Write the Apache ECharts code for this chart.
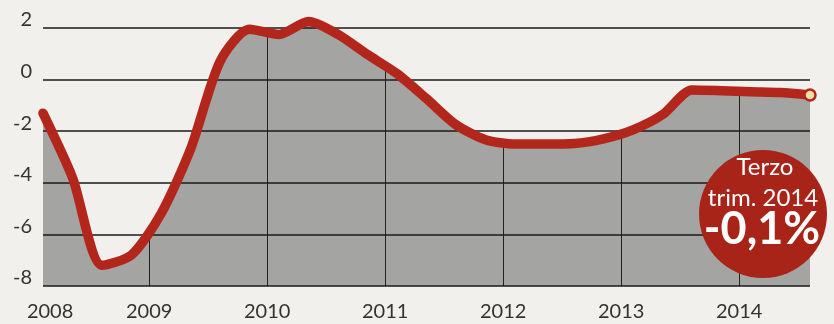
<!DOCTYPE html>
<html>
<head>
<meta charset="utf-8">
<script src="https://cdn.jsdelivr.net/npm/echarts@6/dist/echarts.min.js"></script>
<style>
    html, body { margin: 0; padding: 0; background: #f1f0ec; }
    #chart { width: 834px; height: 324px; }
</style>
</head>
<body>
<div id="chart"></div>
<script>
    // trimestri 2008 T1 .. 2014 T3
    const quarters = [
        '2008T1', '2008T2', '2008T3', '2008T4',
        '2009T1', '2009T2', '2009T3', '2009T4',
        '2010T1', '2010T2', '2010T3', '2010T4',
        '2011T1', '2011T2', '2011T3', '2011T4',
        '2012T1', '2012T2', '2012T3', '2012T4',
        '2013T1', '2013T2', '2013T3', '2013T4',
        '2014T1', '2014T2', '2014T3'
    ]
    const values = [
        -1.3, -3.8, -7.2, -6.8,
        -5.2, -2.7, 0.7, 1.95,
        1.75, 2.25, 1.75, 0.97,
        0.23, -0.74, -1.75, -2.33,
        -2.5, -2.5, -2.48, -2.3,
        -1.95, -1.36, -0.4, -0.43,
        -0.47, -0.5, -0.6
    ]
    const yearTicks = [2009, 2010, 2011, 2012, 2013, 2014]
    const yearLabels = ['2008', '2009', '2010', '2011', '2012', '2013', '2014']
    const yMin = -8, yMax = 2, yStep = 2

    const bg = '#f1f0ec'
    const red = '#b3261b'
    const font = 'Lato'

    // posizione di un trimestre sull'asse (anni decimali)
    const xOf = q => {
        const parts = q.split('T')
        return +parts[0] + (parts[1] - 1) / 4 + 0.1
    }
    const points = values.map((v, i) => [xOf(quarters[i]), v])
    const xFirst = points[0][0]
    const xLast = points[points.length - 1][0]
    // la prima etichetta (2008) sta appena dopo l'inizio del grafico
    const labelValues = [xFirst + 0.06].concat(yearTicks)

    const chart = echarts.init(document.getElementById('chart'))
    const smooth = 0.25

    chart.setOption({
        backgroundColor: bg,
        animation: false,
        grid: { left: 43, right: 24, top: 28, bottom: 38 },
        xAxis: {
            type: 'value',
            min: xFirst,
            max: xLast,
            z: 2,
            axisLine: { show: false },
            axisTick: {
                show: true,
                length: 7,
                customValues: yearTicks,
                lineStyle: { color: '#222', width: 1 }
            },
            axisLabel: {
                customValues: labelValues,
                formatter: v => yearLabels[labelValues.indexOf(v)] || '',
                margin: 16,
                fontFamily: font,
                fontSize: 20,
                color: '#333'
            },
            splitLine: {
                show: true,
                lineStyle: { color: '#222', width: 1 }
            }
        },
        yAxis: {
            type: 'value',
            min: yMin,
            max: yMax,
            interval: yStep,
            z: 4,
            axisLine: { show: false },
            axisTick: { show: false },
            axisLabel: {
                margin: 11,
                fontFamily: font,
                fontSize: 20,
                color: '#333',
                verticalAlign: 'bottom',
                lineHeight: 16
            },
            splitLine: {
                show: true,
                lineStyle: { color: '#1a1a1a', width: 1.5 }
            }
        },
        series: [
            {
                // area grigia sotto la curva
                type: 'line',
                data: points,
                smooth: smooth,
                showSymbol: false,
                clip: false,
                z: 1,
                lineStyle: { width: 0 },
                areaStyle: { color: '#a4a4a2', opacity: 1, origin: 'start' }
            },
            {
                // copre le linee verticali sopra la curva
                type: 'line',
                data: points,
                smooth: smooth,
                showSymbol: false,
                z: 3,
                lineStyle: { width: 0 },
                areaStyle: { color: bg, opacity: 1, origin: 'end' }
            },
            {
                type: 'line',
                data: points,
                smooth: smooth,
                clip: false,
                z: 5,
                symbol: 'circle',
                symbolSize: (v, p) => p.dataIndex === points.length - 1 ? 11 : 0,
                showAllSymbol: true,
                itemStyle: { color: '#f7dca8', borderColor: red, borderWidth: 2.5 },
                lineStyle: { color: red, width: 9.5, cap: 'round', join: 'round' }
            }
        ],
        graphic: [
            {
                type: 'circle',
                z: 10,
                shape: { cx: 763, cy: 214, r: 64 },
                style: { fill: '#a82418' }
            },
            {
                type: 'text',
                z: 11,
                x: 765, y: 167,
                style: {
                    text: 'Terzo', fill: '#fff', font: '24px Lato',
                    align: 'center', verticalAlign: 'middle'
                }
            },
            {
                type: 'text',
                z: 11,
                x: 763, y: 198,
                style: {
                    text: 'trim. 2014', fill: '#fff', font: '24px Lato',
                    align: 'center', verticalAlign: 'middle'
                }
            },
            {
                type: 'text',
                z: 11,
                x: 762, y: 229,
                style: {
                    text: '-0,1%', fill: '#fff', font: 'bold 45px Lato',
                    align: 'center', verticalAlign: 'middle'
                }
            }
        ]
    })
</script>
</body>
</html>
